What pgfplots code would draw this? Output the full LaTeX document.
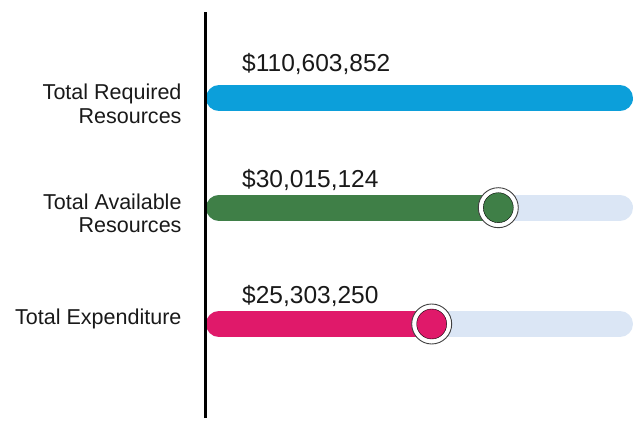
\documentclass[border=0pt]{standalone}
\usepackage{fontspec}
\setmainfont{Liberation Sans}
\usepackage{pgfplots}
\pgfplotsset{compat=1.18}
\definecolor{cblue}{HTML}{0C9FDA}
\definecolor{cgreen}{HTML}{3F7F47}
\definecolor{cpink}{HTML}{E0196A}
\definecolor{ctrack}{HTML}{DBE6F5}
\begin{document}
\begin{tikzpicture}
\begin{axis}[
  name=ax,
  scale only axis,
  width=427bp, height=406bp,
  xmin=0, xmax=427, ymin=2, ymax=408,
  hide axis,
  clip=false,
]
% tracks (full length = 100%)
\addplot[ctrack, line width=26bp, line cap=round] coordinates {(13,212.3) (414,212.3)};
\addplot[ctrack, line width=26bp, line cap=round] coordinates {(13,96) (414,96)};
% filled bars
\addplot[cblue, line width=26bp, line cap=round] coordinates {(13,321.7) (414,321.7)};
\addplot[cgreen, line width=26bp, line cap=round] coordinates {(13,212.3) (292.3,212.3)};
\addplot[cpink, line width=26bp, line cap=round] coordinates {(13,96) (225.7,96)};
% knobs
\addplot[only marks, mark=*, mark size=20bp, mark options={fill=white, draw=black!75, line width=0.9bp}] coordinates {(292.3,212.3) (225.7,96)};
\addplot[only marks, mark=*, mark size=15bp, mark options={fill=cgreen, draw=none}] coordinates {(292.3,212.3)};
\addplot[only marks, mark=*, mark size=15bp, mark options={fill=cpink, draw=none}] coordinates {(225.7,96)};
% axis line
\draw[black, line width=3bp] (axis cs:0,2) -- (axis cs:0,408);
% value labels
\node[anchor=base west, inner sep=0pt, font=\fontsize{24.6}{28}\selectfont, text=black!90] at (axis cs:36,348.3) {\$110,603,852};
\node[anchor=base west, inner sep=0pt, font=\fontsize{24.6}{28}\selectfont, text=black!90] at (axis cs:36,232.7) {\$30,015,124};
\node[anchor=base west, inner sep=0pt, font=\fontsize{24.6}{28}\selectfont, text=black!90] at (axis cs:36,116.7) {\$25,303,250};
% category labels
\node[anchor=east, inner sep=0pt, align=right, font=\fontsize{21.6}{24}\selectfont, text=black!90] at (axis cs:-24.3,316.3) {Total Required\\Resources};
\node[anchor=east, inner sep=0pt, align=right, font=\fontsize{21.6}{24}\selectfont, text=black!90] at (axis cs:-24.3,206.7) {Total Available\\Resources};
\node[anchor=base east, inner sep=0pt, font=\fontsize{21.6}{24}\selectfont, text=black!90] at (axis cs:-24.3,95.7) {Total Expenditure};
\end{axis}
\pgfresetboundingbox
\useasboundingbox ([xshift=-206bp,yshift=-3bp]ax.south west) rectangle ([yshift=12bp]ax.north east);
\end{tikzpicture}
\end{document}
